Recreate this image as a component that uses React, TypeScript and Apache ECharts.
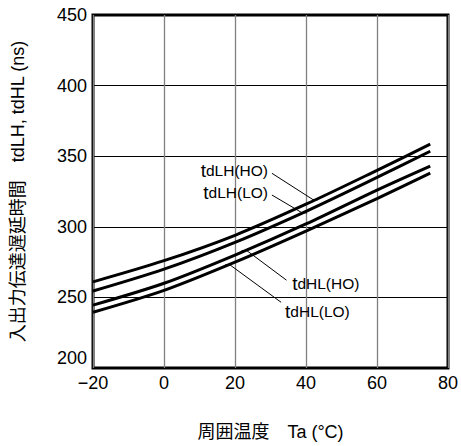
import React, { useEffect, useRef } from "react";
import * as echarts from "echarts";

const temps = [-20, 0, 20, 40, 60, 75];
const lhHO = [261, 276, 294, 316, 340, 358.5];
const lhLO = [254.5, 270, 289, 311, 335, 353.5];
const hlHO = [244.5, 260, 280, 302, 326, 343];
const hlLO = [239.5, 255, 275, 297, 320, 338];

const seriesNames = ["tdLH(HO)", "tdLH(LO)", "tdHL(HO)", "tdHL(LO)"];
const seriesValues = [lhHO, lhLO, hlHO, hlLO];

// annotation anchors in data coordinates: [text anchor, leader start, leader end]
const labelText = [["t", "dLH(HO)"], ["t", "dLH(LO)"], ["t", "dHL(HO)"], ["t", "dHL(LO)"]];
const labelAnchor = [[29.3, 339.6], [29.3, 324.4], [36.1, 259.9], [34.1, 240.1]];
const labelAlign = ["right", "right", "left", "left"];
const leaderFrom = [[30.4, 337.9], [30.4, 322.5], [34.5, 262.2], [33, 246.5]];
const leaderTo = [[42, 319.2], [38.9, 309.9], [23.3, 283.2], [18.6, 273.0]];
const barbDir = [1, 1, -1, -1];

const xTicks = { min: -20, max: 80, interval: 20 };
const yTicks = { min: 200, max: 450, interval: 50 };

const FONT = "'Liberation Sans', Arial, 'Noto Sans CJK JP', sans-serif";

export default function App() {
  const ref = useRef<HTMLDivElement>(null);
  useEffect(() => {
    document.body.style.margin = "0";
    const chart = echarts.init(ref.current!, null, { renderer: "svg" });
    chart.setOption({
      animation: false,
      textStyle: { fontFamily: FONT },
      grid: {
        left: 93,
        right: 13,
        top: 15,
        bottom: 76,
        show: true,
        borderColor: "#000",
        borderWidth: 3,
        backgroundColor: "transparent",
      },
      xAxis: {
        type: "value",
        min: xTicks.min,
        max: xTicks.max,
        interval: xTicks.interval,
        name: "周囲温度　Ta (°C)",
        nameLocation: "middle",
        nameGap: 55,
        nameTextStyle: { fontSize: 18, color: "#000", fontFamily: FONT },
        axisLine: { show: false },
        axisTick: { show: false },
        axisLabel: {
          fontSize: 18,
          color: "#000",
          margin: 6,
          fontFamily: FONT,
          formatter: (v: number) => String(v).replace("-", "−"),
        },
        splitLine: { show: true, lineStyle: { color: "#808080", width: 1.3 } },
      },
      yAxis: {
        type: "value",
        min: yTicks.min,
        max: yTicks.max,
        interval: yTicks.interval,
        name: "入出力伝達遅延時間　tdLH, tdHL (ns)",
        nameLocation: "middle",
        nameGap: 66,
        nameTextStyle: { fontSize: 18, color: "#000", fontFamily: FONT },
        axisLine: { show: false },
        axisTick: { show: false },
        axisLabel: {
          fontSize: 18,
          color: "#000",
          margin: 6,
          fontFamily: FONT,
          formatter: (v: number) => (v === yTicks.min ? "{b|" + v + "}" : String(v)),
          rich: { b: { fontSize: 18, color: "#000", fontFamily: FONT, padding: [0, 0, 20, 0] } },
        },
        splitLine: { show: true, lineStyle: { color: "#000", width: 1 } },
      },
      series: seriesValues.map((vals, i) => ({
        name: seriesNames[i],
        type: "line",
        smooth: 0.3,
        showSymbol: false,
        symbol: "none",
        lineStyle: { color: "#000", width: 3 },
        data: temps.map((t, j) => [t, vals[j]]),
      })),
    });

    const px = (p: number[]) => chart.convertToPixel({ gridIndex: 0 }, p) as number[];
    const graphics: any[] = [];
    for (let i = 0; i < labelAnchor.length; i++) {
      const a = px(labelAnchor[i]);
      const f = px(leaderFrom[i]);
      const t = px(leaderTo[i]);
      graphics.push({
        type: "text",
        x: a[0],
        y: a[1],
        style: {
          text: "{t|" + labelText[i][0] + "}{r|" + labelText[i][1] + "}",
          align: labelAlign[i],
          verticalAlign: "middle",
          rich: {
            t: { fontSize: 19, fontFamily: FONT, fill: "#000" },
            r: { fontSize: 15.5, fontFamily: FONT, fill: "#000" },
          },
        },
        z: 10,
      });
      graphics.push({
        type: "polyline",
        shape: {
          points: [
            [f[0], f[1]],
            [t[0], t[1]],
            [t[0] + barbDir[i] * 5, t[1]],
          ],
        },
        style: { stroke: "#000", lineWidth: 1, fill: "none" },
        z: 10,
      });
    }
    chart.setOption({ graphic: graphics });
    return () => chart.dispose();
  }, []);
  return <div ref={ref} style={{ width: 461, height: 446 }} />;
}
